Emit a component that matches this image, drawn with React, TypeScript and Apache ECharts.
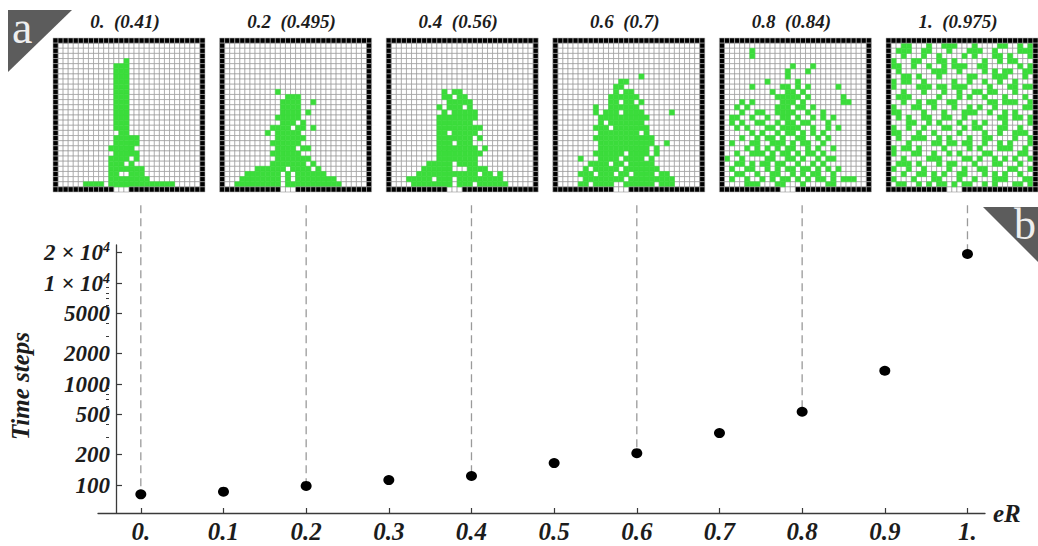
import React, { useEffect, useRef } from "react";
import * as echarts from "echarts";

// ---------- data ----------
const ER_VALUES = [0, 0.1, 0.2, 0.3, 0.4, 0.5, 0.6, 0.7, 0.8, 0.9, 1.0];
const TIME_STEPS = [81, 86, 98, 112, 123, 165, 207, 327, 532, 1355, 19400];

const X_TICKS = [0, 0.1, 0.2, 0.3, 0.4, 0.5, 0.6, 0.7, 0.8, 0.9, 1.0];
const X_TICK_LABELS = ["0.", "0.1", "0.2", "0.3", "0.4", "0.5", "0.6", "0.7", "0.8", "0.9", "1."];
const Y_TICKS = [100, 200, 500, 1000, 2000, 5000, 10000, 20000];
const Y_TICK_LABELS = ["100", "200", "500", "1000", "2000", "5000", "1 × 10{sup|4}", "2 × 10{sup|4}"];
const Y_MINOR_TICKS = [300, 400, 600, 700, 800, 900, 3000, 4000, 6000, 7000, 8000, 9000];
const Y_MIN = 52.9;
const Y_MAX = 23800;
const CONNECTOR_TOP = 59000;

const PANEL_ER = [0, 0.2, 0.4, 0.6, 0.8, 1.0];
const PANEL_ER_LABELS = ["0.", "0.2", "0.4", "0.6", "0.8", "1."];
const PANEL_FILL_LABELS = ["0.41", "0.495", "0.56", "0.7", "0.84", "0.975"];
const OUTLET_COLS = [12, 13, 14];

// green cells per row (rows 1..28), columns 1..28
const PANEL_0 = [
  "", "", "", "14", "12-14", "12-14", "12-14", "12-14", "12-14", "12-14",
  "12-14", "12-14", "12-14", "12-14", "12-14", "12-14", "12-14", "13-14", "12-16", "12-16",
  "11-15", "12-16", "11-14,16", "11-13,15", "11-17", "11-12,15-17", "11-18", "6-9,11-23",
];
const PANEL_2 = [
  "", "", "", "", "", "", "", "", "", "11",
  "13-15", "12-15,18", "12-15", "12-15,17", "11-15", "12-14,16", "10-13,15-16,18", "9,11-15", "11-16", "10-15",
  "11-14,16-17", "10-15", "11-17", "10-16,18", "7-12,14-17,19", "5-11,13,15-20", "4-11,13,15-22", "3-11,13-23",
];
const PANEL_4 = [
  "", "", "", "", "", "", "", "", "", "11,13-14",
  "11-12,14-15", "12-16", "10,12-14,16", "11,13-17", "10-17", "10-16", "10-18", "10-11,13-17", "10-16,18", "10-12,14-16",
  "10-17,19", "10-18", "10-17", "8-12,14-17", "7-12,16-19", "6-17,19-20,22", "4-8,10-12,14-22", "5-12,14-16,18-23",
];
const PANEL_6 = [
  "", "", "", "", "", "", "17", "13-14", "12-13", "12,14-15",
  "11-16", "11-12,14-15,17", "8,11-16", "8,10-12,14-17,23", "9-18", "9,11-17", "8-10,12-18", "9-16,18", "8-19", "9-19,22",
  "9-18,20", "8-13,15-18,20", "5,9-12,14-17,19", "7-10,12-13,15-19", "6,8-12,14-20", "5-7,9-11,13-14,16-19,21-22", "6-13,15-23", "5-6,8-11,14-19,21-23",
];
const PANEL_8 = [
  "", "6", "6", "", "14,18", "13,17", "13", "9,15", "6,12-13,15,17,23", "10,13-14,16",
  "11-15,17,24", "4,6,12-14,16,24-25", "3,5,11-13,15-16,18", "4,7-8,11-14,17,20", "2-3,6,9,12-13,15,18,20,22", "2,4,7-8,11,13-14,16-17,21", "3,5,9-10,12-15,18,21,23", "6,8,11,13-14,16,18,20", "4,7,9-10,12,15-16,19,21", "2,6-7,10-12,14,16-17,20",
  "5,7,9,11,13-14,17,19,22", "3,6-8,10,12-13,15,17-18,20", "1,4,9-10,13-14,16,19,21-22", "3-4,6,8-9,11-12,15,18,20", "2,5-6,9,11,13-14,16-17,19,21,23", "3-4,7,10-11,14,16,18-19,22", "2,5,8,10,12-13,15,17,19-20,22,24-26", "5-7,11-12,16,21-22",
];
// row masks: '#' = green cell
const PANEL_10 = [
  "..##...#..###...#....##..#.#",
  ".###..##...#...###..#....###",
  "..#...#..#....#.#...##.#...#",
  "#...##...##.#.....#..#.##...",
  "##..#..#..#.###..##......#.#",
  ".#......###..#....#.#.##..##",
  "..##.#...#.....##...###...#.",
  "#.##..#.....#..#..#..#..#...",
  "#....###.##.###....#...##.##",
  "..#...#...#..#..##.##...#...",
  ".###.....#...#.#..#...#...#.",
  "..#..#.##..##......##.###..#",
  "#...##..#...#..#.#..#.....##",
  "##....#...#...###..#..#.#...",
  ".#.#..##..##..#......##.##.#",
  "...##..#.#...#..#.#...#....#",
  "#..#..#...##..#.##...##..#..",
  "##...#..#....#....#..#..###.",
  ".#..###..#.#...#..##....#..#",
  "...#....##.##.##..#..#.#...#",
  "#.##.#....#....#.#...###..#.",
  "#...##..#..#.#....##.....##.",
  "..#....###....##.#..#.#.#..#",
  ".###.#...#.##...#...##...#..",
  "#..#..#....#..#..##....##..#",
  "..#..##.#.#..##...#.#.#..#..",
  "#...#...##...#..#...###...##",
  ".##..#.#.##.#.##..#.#...##.#",
];
const PANELS = [PANEL_0, PANEL_2, PANEL_4, PANEL_6, PANEL_8, PANEL_10];

// ---------- styling ----------
const FONT = '"Liberation Serif", "DejaVu Serif", serif';
const TEXT = "#1c1c1c";
const GREEN = "#3bdc3b";
const N = 30;

function parseRow(s: string): number[] {
  if (!s) return [];
  const out: number[] = [];
  if (/^[#.]+$/.test(s)) {
    for (let i = 0; i < s.length; i++) if (s[i] === "#") out.push(i + 1);
    return out;
  }
  s.split(",").forEach((p) => {
    const [a, b] = p.split("-").map(Number);
    if (b === undefined) out.push(a);
    else for (let c = a; c <= b; c++) out.push(c);
  });
  return out;
}

function panelCells(rows: string[]) {
  const green = new Set<string>();
  rows.forEach((r, i) => parseRow(r).forEach((c) => green.add(c + "_" + (i + 1))));
  const data: number[][] = [];
  for (let r = 0; r < N; r++) {
    for (let c = 0; c < N; c++) {
      let s = 0;
      const border = r === 0 || c === 0 || r === N - 1 || c === N - 1;
      if (border) s = r === N - 1 && OUTLET_COLS.includes(c) ? 0 : 2;
      else if (green.has(c + "_" + r)) s = 1;
      data.push([c, r, s]);
    }
  }
  return data;
}

export default function App() {
  const ref = useRef<HTMLDivElement>(null);
  useEffect(() => {
    if (!ref.current) return;
    const chart = echarts.init(ref.current, null, { renderer: "svg" });
    const lg = (v: number) => Math.log10(v);

    const PANEL_LEFT0 = 53;
    const PANEL_STEP = 166.6;
    const PANEL_TOP = 38;
    const PANEL_W = 152;
    const PANEL_H = 154;

    const grids: any[] = [{ left: 88, right: 53, top: 245, bottom: 33 }];
    const xAxes: any[] = [
      {
        gridIndex: 0,
        type: "value",
        min: -0.0518,
        max: 1.0212,
        axisLine: { onZero: false, lineStyle: { color: "#3a3a3a", width: 1.3 } },
        axisTick: { customValues: X_TICKS, inside: true, length: 5, lineStyle: { color: "#3a3a3a", width: 1.2 } },
        axisLabel: {
          customValues: X_TICKS,
          margin: 6,
          formatter: (v: number) => {
            const i = X_TICKS.findIndex((t) => Math.abs(t - v) < 1e-6);
            return i >= 0 ? X_TICK_LABELS[i] : "";
          },
          fontFamily: FONT,
          fontSize: 25,
          fontStyle: "italic",
          fontWeight: "bold",
          color: TEXT,
        },
        splitLine: { show: false },
        name: "eR",
        nameLocation: "end",
        nameGap: 8,
        nameTextStyle: { fontFamily: FONT, fontSize: 25, fontStyle: "italic", fontWeight: "bold", color: TEXT, verticalAlign: "middle" },
      },
    ];
    const yAxes: any[] = [
      {
        gridIndex: 0,
        type: "value",
        min: lg(Y_MIN),
        max: lg(Y_MAX),
        offset: -18,
        axisLine: { onZero: false, lineStyle: { color: "#3a3a3a", width: 1.3 } },
        axisTick: { customValues: Y_TICKS.map(lg), inside: true, length: 6, lineStyle: { color: "#3a3a3a", width: 1.2 } },
        axisLabel: {
          customValues: Y_TICKS.map(lg),
          margin: 6,
          formatter: (v: number) => {
            const i = Y_TICKS.findIndex((t) => Math.abs(lg(t) - v) < 1e-6);
            return i >= 0 ? Y_TICK_LABELS[i] : "";
          },
          fontFamily: FONT,
          fontSize: 23,
          fontStyle: "italic",
          fontWeight: "bold",
          color: TEXT,
          rich: {
            sup: {
              fontFamily: FONT,
              fontSize: 14,
              fontStyle: "italic",
              fontWeight: "bold",
              color: TEXT,
              verticalAlign: "bottom",
              padding: [0, 0, 10, 0],
            },
          },
        },
        splitLine: { show: false },
        name: "Time steps",
        nameLocation: "middle",
        nameRotate: 90,
        nameGap: 57,
        nameTextStyle: { fontFamily: FONT, fontSize: 25, fontStyle: "italic", fontWeight: "bold", color: TEXT, padding: [0, 14, 0, 0] },
      },
    ];
    const series: any[] = [];

    PANELS.forEach((rows, i) => {
      const left = PANEL_LEFT0 + PANEL_STEP * i;
      grids.push({ left, top: PANEL_TOP, width: PANEL_W, height: PANEL_H });
      xAxes.push({ gridIndex: i + 1, type: "value", min: 0, max: N, show: false });
      yAxes.push({ gridIndex: i + 1, type: "value", min: 0, max: N, inverse: true, show: false });
      series.push({
        type: "custom",
        xAxisIndex: i + 1,
        yAxisIndex: i + 1,
        silent: true,
        data: panelCells(rows),
        encode: { x: 0, y: 1 },
        renderItem: (params: any, api: any) => {
          const c = api.value(0);
          const r = api.value(1);
          const s = api.value(2);
          const p0 = api.coord([c, r]);
          const p1 = api.coord([c + 1, r + 1]);
          const fill = s === 2 ? "#000" : s === 1 ? GREEN : "#fff";
          const stroke = s === 2 ? "#b5b5b5" : s === 1 ? GREEN : "#8c8c8c";
          return {
            type: "rect",
            shape: {
              x: Math.min(p0[0], p1[0]),
              y: Math.min(p0[1], p1[1]),
              width: Math.abs(p1[0] - p0[0]),
              height: Math.abs(p1[1] - p0[1]),
            },
            style: { fill, stroke, lineWidth: 0.55 },
            z2: s,
          };
        },
      });
    });

    // extra grid for minor log ticks on the same y axis
    grids.push({ left: 88, right: 53, top: 245, bottom: 33 });
    xAxes.push({ gridIndex: 7, type: "value", min: 0, max: 1, show: false });
    yAxes.push({
      gridIndex: 7,
      type: "value",
      min: lg(Y_MIN),
      max: lg(Y_MAX),
      offset: -18,
      axisLine: { show: false },
      axisTick: { customValues: Y_MINOR_TICKS.map(lg), inside: true, length: 3, lineStyle: { color: "#3a3a3a", width: 1 } },
      axisLabel: { show: false },
      splitLine: { show: false },
    });

    PANEL_ER.forEach((er) => {
      const idx = ER_VALUES.findIndex((v) => Math.abs(v - er) < 1e-6);
      series.push({
        type: "line",
        xAxisIndex: 0,
        yAxisIndex: 0,
        clip: false,
        silent: true,
        symbol: "none",
        data: [
          [er, lg(CONNECTOR_TOP)],
          [er, lg(TIME_STEPS[idx])],
        ],
        lineStyle: { color: "#9a9a9a", width: 1.3, type: [8, 5] },
        z: 1,
      });
    });

    series.push({
      type: "scatter",
      xAxisIndex: 0,
      yAxisIndex: 0,
      symbol: "circle",
      symbolSize: [11, 10],
      itemStyle: { color: "#000", opacity: 1 },
      data: ER_VALUES.map((x, i) => [x, lg(TIME_STEPS[i])]),
      z: 3,
    });

    const titles = PANELS.map((_, i) => ({
      text: PANEL_ER_LABELS[i] + "  (" + PANEL_FILL_LABELS[i] + ")",
      left: PANEL_LEFT0 + PANEL_STEP * i + PANEL_W / 2 - 4,
      top: 12,
      textAlign: "center",
      padding: 0,
      textStyle: { fontFamily: FONT, fontSize: 19, fontStyle: "italic", fontWeight: "bold", color: TEXT },
    }));

    chart.setOption({
      animation: false,
      backgroundColor: "#fff",
      title: titles,
      grid: grids,
      xAxis: xAxes,
      yAxis: yAxes,
      series,
      graphic: [
        { type: "polygon", shape: { points: [[8, 10], [72, 10], [8, 72]] }, style: { fill: "#5c5c5c" }, silent: true },
        {
          type: "text",
          x: 12,
          y: 27,
          style: { text: "a", font: '46px "Liberation Serif"', fill: "#eeeeee", verticalAlign: "middle" },
          silent: true,
        },
        { type: "polygon", shape: { points: [[983, 207], [1046, 207], [1046, 270]] }, style: { fill: "#5c5c5c" }, silent: true },
        {
          type: "text",
          x: 1014,
          y: 224,
          style: { text: "b", font: '44px "Liberation Serif"', fill: "#eeeeee", verticalAlign: "middle" },
          silent: true,
        },
      ],
    });
    return () => chart.dispose();
  }, []);
  return <div ref={ref} style={{ position: "absolute", left: 0, top: 0, width: 1038, height: 546 }} />;
}
